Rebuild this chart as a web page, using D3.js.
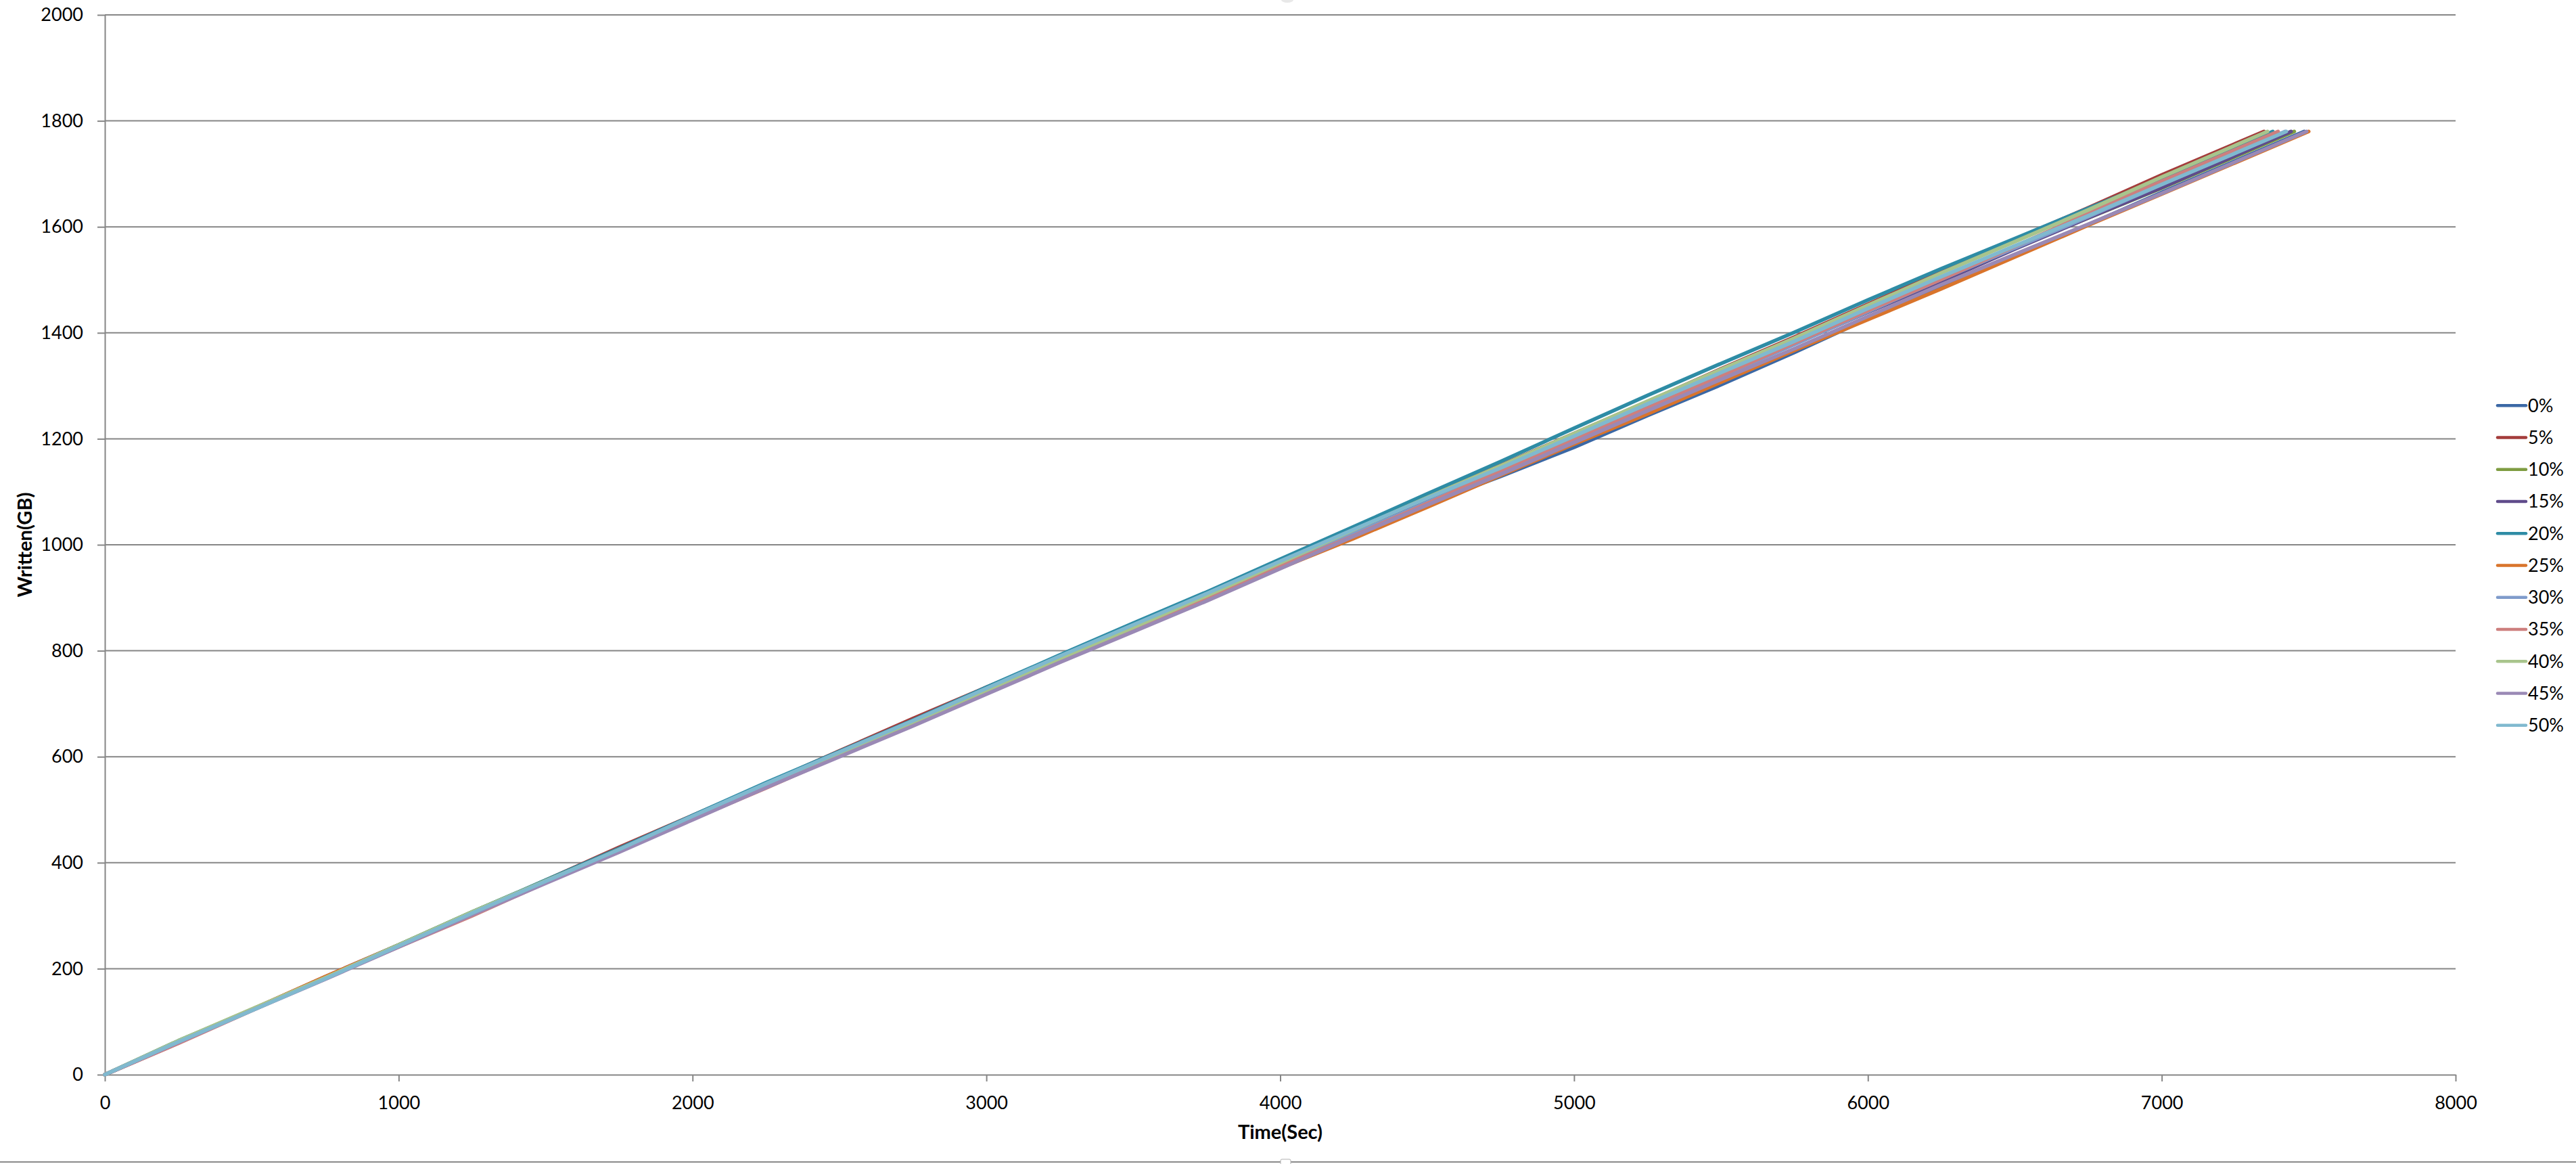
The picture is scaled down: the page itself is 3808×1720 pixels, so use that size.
<!DOCTYPE html>
<html>
<head>
<meta charset="utf-8">
<script src="https://cdn.jsdelivr.net/npm/d3@7"></script>
<style>
  html, body { margin: 0; padding: 0; background: #ffffff; }
  svg { display: block; }
  text { font-family: Lato, "Open Sans", "Liberation Sans", sans-serif; fill: #000; }
</style>
</head>
<body>
<svg id="chart" width="3808" height="1720"></svg>
<script>
// ---------------- DATA ----------------
const seriesNames = ["0%", "5%", "10%", "15%", "20%", "25%", "30%", "35%", "40%", "45%", "50%"];
const seriesColors = ["#3b68a5", "#a43c3b", "#7e9c41", "#5f4b8b", "#2e8ca5", "#d9742b",
                      "#7f9bcb", "#cd7f7e", "#a8c48c", "#9a89b5", "#80b9cf"];
// sample times (seconds)
const times = [0, 250, 500, 750, 1000, 1250, 1500, 1750, 2000, 2250, 2500, 2750, 3000, 3250, 3500,
               3750, 4000, 4250, 4500, 4750, 5000, 5250, 5500, 5750, 6000, 6250, 6500, 6750, 7000];
// GB written at each sample time
const s0  = [0,62,122,181,243,305,365,424,486,547,605,663,724,784,841,899,960,1020,1077,1129,1184,1244,1302,1363,1427,1488,1546,1604,1665];
const s5  = [0,60,123,185,245,305,367,429,489,549,611,672,731,789,849,910,968,1027,1089,1150,1210,1270,1332,1392,1454,1516,1576,1636,1698];
const s10 = [0,63,123,183,245,307,366,426,488,548,607,665,726,787,846,905,967,1028,1087,1145,1205,1267,1326,1384,1444,1503,1560,1617,1673];
const s15 = [0,60,122,184,244,303,365,426,486,545,605,665,724,783,844,905,963,1021,1081,1140,1197,1256,1318,1379,1439,1497,1558,1617,1674];
const s20 = [0,64,123,183,245,307,367,427,489,551,610,669,731,792,852,911,973,1034,1096,1157,1220,1282,1342,1401,1462,1521,1578,1635,1691];
const s25 = [0,62,123,185,244,303,364,425,484,542,603,663,721,779,838,898,956,1012,1071,1131,1190,1247,1307,1367,1425,1483,1543,1603,1662];
const s30 = [0,63,123,182,244,306,365,424,486,547,605,663,723,783,842,901,961,1021,1080,1139,1199,1259,1318,1378,1440,1501,1560,1619,1680];
const s35 = [0,59,121,182,241,300,362,423,482,541,602,662,721,779,839,900,959,1017,1078,1140,1199,1258,1319,1381,1442,1501,1563,1626,1686];
const s40 = [0,64,124,183,245,307,366,424,485,546,604,663,724,785,844,904,966,1028,1089,1149,1210,1271,1331,1390,1452,1513,1572,1632,1694];
const s45 = [0,61,121,180,241,302,361,420,481,542,600,658,718,778,836,894,955,1016,1075,1133,1193,1253,1312,1370,1431,1491,1548,1605,1663];
const s50 = [0,62,121,181,243,305,365,425,488,549,609,668,729,790,849,908,969,1029,1088,1145,1205,1266,1325,1384,1446,1506,1564,1621,1680];
// time at which each run finished, and the final amount written
const endTimes = [7485, 7348, 7451, 7440, 7378, 7500, 7420, 7396, 7360, 7493, 7424];
const endValue = 1780;

const xTicks = [0, 1000, 2000, 3000, 4000, 5000, 6000, 7000, 8000];
const yTicks = [0, 200, 400, 600, 800, 1000, 1200, 1400, 1600, 1800, 2000];
const xTitle = "Time(Sec)";
const yTitle = "Written(GB)";

// ---------------- CHART ----------------
const allValues = [s0, s5, s10, s15, s20, s25, s30, s35, s40, s45, s50];
const series = allValues.map((vals, i) => ({
  name: seriesNames[i],
  color: seriesColors[i],
  points: times.map((t, j) => [t, vals[j]]).concat([[endTimes[i], endValue]])
}));

const svg = d3.select("#chart");
const gridColor = "#868686";
const fmt = d3.format("d");

const x = d3.scaleLinear().domain([0, 8000]).range([155, 3630]);
const y = d3.scaleLinear().domain([0, 2000]).range([1588, 22]);

// gridlines
svg.append("g")
  .selectAll("line")
  .data(yTicks.filter(d => d > 0))
  .join("line")
  .attr("x1", x(0)).attr("x2", x(8000))
  .attr("y1", d => y(d)).attr("y2", d => y(d))
  .attr("stroke", gridColor).attr("stroke-width", 2);

// y axis
const yAxis = svg.append("g")
  .attr("transform", `translate(${x(0)},0)`)
  .call(d3.axisLeft(y).tickValues(yTicks).tickFormat(fmt).tickSize(11).tickSizeOuter(0).tickPadding(21));
// x axis
const xAxis = svg.append("g")
  .attr("transform", `translate(0,${y(0)})`)
  .call(d3.axisBottom(x).tickValues(xTicks).tickFormat(fmt).tickSize(10).tickSizeOuter(0).tickPadding(22));

[yAxis, xAxis].forEach(g => {
  g.selectAll("path.domain").attr("stroke", gridColor).attr("stroke-width", 2);
  g.selectAll(".tick line").attr("stroke", gridColor).attr("stroke-width", 2);
  g.selectAll(".tick text")
    .attr("fill", "#000")
    .style("font-family", "Lato, 'Open Sans', 'Liberation Sans', sans-serif")
    .style("font-size", "27px");
});

// lines
const line = d3.line().x(d => x(d[0])).y(d => y(d[1]));
svg.append("g")
  .selectAll("path")
  .data(series)
  .join("path")
  .attr("d", d => line(d.points))
  .attr("fill", "none")
  .attr("stroke", d => d.color)
  .attr("stroke-width", 5.5)
  .attr("stroke-linejoin", "round")
  .attr("stroke-linecap", "round");

// axis titles
svg.append("text")
  .attr("x", (x(0) + x(8000)) / 2)
  .attr("y", 1683)
  .attr("text-anchor", "middle")
  .style("font-size", "29px")
  .style("font-weight", "bold")
  .text(xTitle);

svg.append("text")
  .attr("transform", `translate(47,${(y(0) + y(2000)) / 2}) rotate(-90)`)
  .attr("text-anchor", "middle")
  .style("font-size", "29px")
  .style("font-weight", "bold")
  .text(yTitle);

// legend
const legendStep = 47.24;
const leg = svg.append("g")
  .selectAll("g")
  .data(series)
  .join("g")
  .attr("transform", (d, i) => `translate(3692,${599.3 + i * legendStep})`);
leg.append("line")
  .attr("x1", 0).attr("x2", 42).attr("y1", 0).attr("y2", 0)
  .attr("stroke", d => d.color).attr("stroke-width", 4.5).attr("stroke-linecap", "round");
leg.append("text")
  .attr("x", 45).attr("y", 0).attr("dy", "0.35em")
  .style("font-size", "27px")
  .text(d => d.name);

// chart frame bottom edge and selection handles
svg.append("line")
  .attr("x1", 0).attr("x2", 3808).attr("y1", 1717).attr("y2", 1717)
  .attr("stroke", "#8a8a8a").attr("stroke-width", 2);
svg.append("rect")
  .attr("x", 1893).attr("y", 1713).attr("width", 15).attr("height", 10).attr("rx", 2)
  .attr("fill", "#ffffff").attr("stroke", "#b0b0b0").attr("stroke-width", 1);
svg.append("ellipse")
  .attr("cx", 1903).attr("cy", 0).attr("rx", 9).attr("ry", 4)
  .attr("fill", "#d8d8d8").attr("opacity", 0.6);
</script>
</body>
</html>
